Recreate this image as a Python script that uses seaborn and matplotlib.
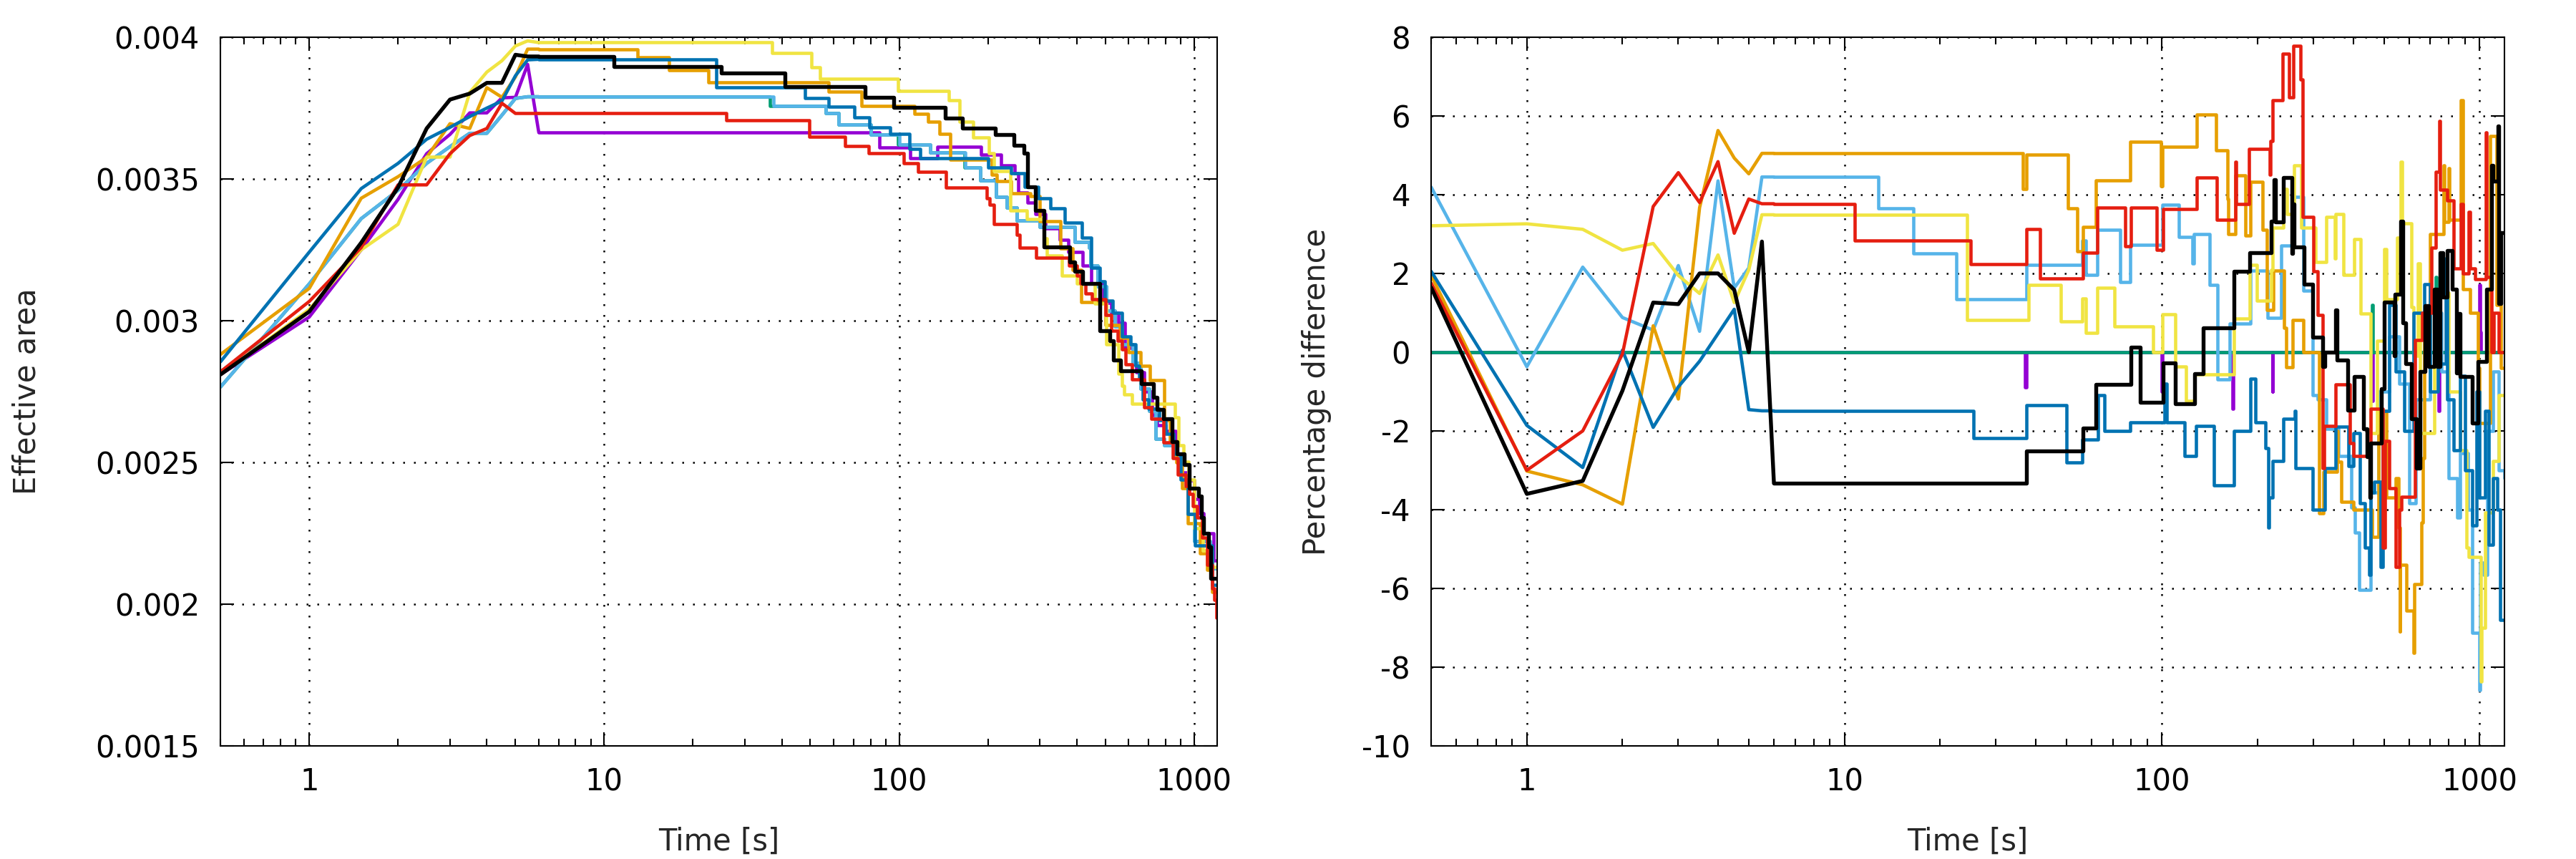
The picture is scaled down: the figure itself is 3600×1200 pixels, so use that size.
import matplotlib
matplotlib.use("Agg")
import matplotlib.pyplot as plt
from matplotlib.ticker import LogLocator, NullFormatter
import pandas as pd
import seaborn as sns

# first seconds are plain samples, drawn as straight segments
t_start = [0.5, 1, 1.5, 2, 2.5, 3, 3.5, 4, 4.5, 5, 5.5, 6]

# ---- effective area, first seconds ----
area_purple_start = [0.00281, 0.003013, 0.00325, 0.003428, 0.003589, 0.003657, 0.003733, 0.003733, 0.003786, 0.003788, 0.003904, 0.003664]
area_green_start = [0.002766, 0.00313, 0.00336, 0.00346, 0.003555, 0.003614, 0.003661, 0.003661, 0.003725, 0.003784, 0.00379, 0.00379]
area_lblue_start = [0.002766, 0.00313, 0.00336, 0.00346, 0.003555, 0.003614, 0.003661, 0.003661, 0.003725, 0.003784, 0.00379, 0.00379]
area_orange_start = [0.002881, 0.003114, 0.003432, 0.003508, 0.003576, 0.003695, 0.003678, 0.003822, 0.003788, 0.00386, 0.003958, 0.003958]
area_yellow_start = [0.00281, 0.00304, 0.00325, 0.00334, 0.003577, 0.003577, 0.003805, 0.003877, 0.003917, 0.003969, 0.003987, 0.003981]
area_dblue_start = [0.002855, 0.003242, 0.003466, 0.003555, 0.00364, 0.003682, 0.00372, 0.00375, 0.003775, 0.003864, 0.00392, 0.003922]
area_red_start = [0.00282, 0.003068, 0.003258, 0.003479, 0.003479, 0.003589, 0.003653, 0.003678, 0.003767, 0.003731, 0.003731, 0.003731]
area_black_start = [0.00281, 0.003032, 0.003275, 0.00347, 0.003678, 0.00378, 0.003801, 0.003839, 0.003839, 0.003938, 0.003932, 0.003932]

# ---- effective area, later: (time, new value) steps ----
area_purple_steps = [(6, 0.003664), (85.5, 0.003612), (109, 0.003574), (134.5, 0.003614), (189, 0.003585),
    (221, 0.003549), (246, 0.003521), (253, 0.003451), (272, 0.003417), (290, 0.003375), (313, 0.003326),
    (351, 0.003285), (375, 0.003243), (420, 0.003194), (449, 0.003132), (494, 0.003063), (523, 0.003028),
    (553, 0.002993), (583, 0.002903), (627, 0.002847), (638, 0.002819), (676, 0.00275), (722, 0.002667),
    (750, 0.002632), (802, 0.00261), (866, 0.002528), (899, 0.002465), (952, 0.002438), (1000, 0.00237),
    (1040, 0.00232), (1077, 0.00225), (1162, 0.002153), (1200, 0.002153)]
area_green_steps = [(6, 0.00379), (36.5, 0.003757), (56.5, 0.003733), (62.5, 0.003691), (80, 0.003657),
    (99, 0.003621), (127.5, 0.003593), (167, 0.00354), (188, 0.003496), (213, 0.003438), (232, 0.0034),
    (251, 0.003354), (300, 0.00333), (393, 0.003278), (441, 0.003257), (445, 0.003194), (470, 0.00312),
    (503, 0.003035), (540, 0.00298), (570, 0.002917), (620, 0.00285), (660, 0.00276), (703, 0.002681),
    (740, 0.002583), (790, 0.00256), (850, 0.00252), (900, 0.00245), (952, 0.002319), (1000, 0.002222),
    (1130, 0.002125), (1200, 0.002125)]
area_lblue_steps = [(6, 0.00379), (37.5, 0.003757), (56.5, 0.003733), (62.5, 0.003691), (80, 0.003657),
    (100.5, 0.003621), (127.5, 0.003593), (168, 0.00354), (188, 0.003496), (213, 0.003438), (232, 0.0034),
    (251, 0.003354), (300, 0.00333), (393, 0.003278), (441, 0.003257), (445, 0.003194), (470, 0.00312),
    (503, 0.003035), (540, 0.00298), (570, 0.002917), (620, 0.00285), (660, 0.00276), (703, 0.002681),
    (740, 0.002583), (790, 0.00256), (850, 0.00252), (900, 0.00245), (952, 0.002319), (1000, 0.002222),
    (1130, 0.002125), (1200, 0.002125)]
area_orange_steps = [(6, 0.003958), (13, 0.00393), (16.6, 0.003884), (22.5, 0.003842), (57.5, 0.003808),
    (74.5, 0.003758), (113, 0.003729), (125.5, 0.003701), (137, 0.003658), (149, 0.003568), (206, 0.003514),
    (214, 0.003493), (239, 0.00345), (279, 0.00344), (300, 0.00335), (352, 0.003256), (388, 0.00318),
    (414, 0.003066), (500, 0.002985), (560, 0.00294), (600, 0.002888), (660, 0.00284), (710, 0.00279),
    (790, 0.00265), (830, 0.00257), (870, 0.0025), (910, 0.00241), (950, 0.002285), (1050, 0.00218),
    (1110, 0.00212), (1150, 0.002044), (1200, 0.002044)]
area_yellow_steps = [(6, 0.003981), (37, 0.003945), (50.5, 0.003894), (54, 0.003854), (99, 0.003811),
    (147.5, 0.003778), (160.5, 0.003702), (178, 0.003647), (202, 0.00359), (210, 0.003528), (238, 0.003389),
    (271, 0.003358), (310, 0.00329), (316, 0.00323), (357, 0.00316), (400, 0.00313), (460, 0.00306),
    (503, 0.002917), (553, 0.002812), (570, 0.00277), (580, 0.00274), (615, 0.002708), (860, 0.00266),
    (884, 0.00256), (920, 0.002503), (960, 0.00244), (1000, 0.002267), (1070, 0.00219), (1150, 0.00213),
    (1200, 0.00213)]
area_dblue_steps = [(6, 0.003922), (24, 0.003822), (48, 0.003784), (57.5, 0.003754), (70.5, 0.003716),
    (79.5, 0.003682), (93, 0.003658), (108.5, 0.003606), (118, 0.003574), (200, 0.00354), (240, 0.003521),
    (266, 0.003472), (296, 0.003431), (325, 0.003396), (365, 0.003347), (416, 0.003292), (449, 0.003188),
    (480, 0.003139), (499, 0.00307), (530, 0.003028), (570, 0.002944), (609, 0.002917), (632, 0.00284),
    (650, 0.002792), (669, 0.002722), (700, 0.00269), (760, 0.00265), (800, 0.0026), (850, 0.00253),
    (900, 0.00244), (952, 0.002319), (1008, 0.002208), (1150, 0.002069), (1200, 0.002069)]
area_red_steps = [(6, 0.003731), (26, 0.003706), (49.5, 0.00365), (65.5, 0.003616), (79, 0.003591),
    (103.5, 0.003555), (116, 0.003525), (144.5, 0.00347), (198, 0.003432), (203, 0.003408), (210, 0.00334),
    (251, 0.003303), (256, 0.003257), (291, 0.003222), (377, 0.003194), (400, 0.00316), (412, 0.003132),
    (428, 0.003097), (450, 0.003076), (500, 0.00302), (523, 0.002965), (550, 0.00293), (570, 0.0029),
    (586, 0.002847), (615, 0.002792), (676, 0.002694), (716, 0.002653), (787, 0.00257), (849, 0.002514),
    (882, 0.002458), (934, 0.002417), (961, 0.002389), (989, 0.002347), (1027, 0.002306), (1067, 0.002236),
    (1108, 0.002139), (1151, 0.002056), (1173, 0.002014), (1190, 0.001951), (1200, 0.001951)]
area_black_steps = [(6, 0.003932), (10.8, 0.003897), (25, 0.003873), (41, 0.003826), (76.5, 0.003788),
    (96, 0.003753), (143, 0.003715), (164, 0.003678), (212, 0.003656), (245, 0.003618), (265, 0.00359),
    (272, 0.003472), (290, 0.003389), (310, 0.003261), (378, 0.003208), (393, 0.003174), (420, 0.003132),
    (480, 0.002965), (518, 0.00293), (533, 0.002861), (564, 0.002822), (663, 0.002778), (729, 0.002729),
    (750, 0.002688), (787, 0.002653), (841, 0.002572), (874, 0.00253), (925, 0.002493), (961, 0.00241),
    (1036, 0.002382), (1057, 0.002306), (1077, 0.00225), (1119, 0.002201), (1140, 0.00209), (1200, 0.00209)]

# ---- percentage difference, first seconds ----
diff_purple_start = [0, 0, 0, 0, 0, 0, 0, 0, 0, 0, 0, 0]
diff_green_start = [0, 0, 0, 0, 0, 0, 0, 0, 0, 0, 0, 0]
diff_lblue_start = [4.19, -0.37, 2.16, 0.88, 0.56, 2.2, 0.53, 4.35, 1.63, 2.14, 4.45, 4.45]
diff_orange_start = [1.95, -3.02, -3.37, -3.86, 0.67, -1.19, 3.67, 5.63, 4.93, 4.53, 5.05, 5.05]
diff_yellow_start = [3.21, 3.26, 3.12, 2.59, 2.76, 1.95, 1.49, 2.47, 1.26, 2.09, 3.49, 3.49]
diff_dblue_start = [2.05, -1.86, -2.93, 0.05, -1.91, -0.88, -0.23, 0.47, 1.09, -1.46, -1.49, -1.49]
diff_red_start = [1.75, -3.0, -2.0, -0.05, 3.70, 4.56, 3.80, 4.84, 3.02, 3.89, 3.77, 3.77]
diff_black_start = [1.64, -3.6, -3.27, -0.98, 1.26, 1.22, 2.0, 2.0, 1.58, 0.0, 2.81, -3.33]

# ---- percentage difference, later: (time, new value) steps ----
diff_purple_steps = [(6, 0), (37, -0.9), (37.5, 0), (100, -1.0), (100.5, 0), (167, -1.44), (167.5, 0),
    (223, -1.0), (223.5, 0), (460, -1.24), (461, 0), (745, -1.5), (746, 0), (1000, 1.7), (1003, 0.5),
    (1010, 0), (1200, 0)]
diff_green_steps = [(6, 0), (460, 1.2), (461, 0), (730, 1.9), (731, 0), (1200, 0)]
diff_lblue_steps = [(6, 4.45), (12.8, 3.65), (16.5, 2.5), (22.5, 1.34), (37.5, 2.22), (56, 2.84), (57.5, 1.96),
    (62.5, 3.11), (74, 1.78), (79.5, 2.72), (100.5, 3.75), (113, 2.92), (125, 2.25), (126, 3.0), (141, 1.7),
    (150, -0.7), (163, 0.72), (190, 2.07), (215, 0.88), (238, 2.71), (260, 3.95), (279, 1.57), (298, -1.1),
    (310, -1.2), (330, -1.94), (360, -2.63), (395, -3.95), (405, -4.58), (418, -6.03), (455, -3.57),
    (480, -1.0), (520, 0.4), (560, -0.8), (600, -3.83), (630, -1.2), (700, 1.0), (760, -0.5), (800, -3.2),
    (850, -4.2), (870, -2.57), (920, -4.0), (950, -7.13), (1000, -8.58), (1005, -5.34), (1030, -5.65),
    (1060, -2.0), (1100, -0.5), (1150, -3.0), (1200, -3.2)]
diff_orange_steps = [(6, 5.05), (36.5, 4.14), (37.5, 5.01), (50.5, 3.66), (54, 2.57), (56.5, 3.19), (62, 4.37),
    (79.5, 5.35), (99.5, 4.22), (100.5, 5.22), (128.5, 6.03), (148, 5.13), (160.5, 3.89), (162, 3.0),
    (170, 4.49), (183, 2.97), (190, 4.33), (207, 3.1), (214, 1.08), (224, 2.07), (242, 0.62), (246, -0.39),
    (258, 0.82), (279, 0.0), (313, -4.1), (322, -3.04), (355, -2.0), (358, -2.79), (367, -3.8), (402, -4.0),
    (458, -4.7), (480, -1.5), (508, -3.7), (545, -3.2), (557, -4.46), (561, -7.1), (563, -5.4), (588, -6.57),
    (620, -7.64), (622, -5.9), (658, -4.33), (662, -2.7), (670, 0.5), (700, 3.0), (770, 4.74), (775, 3.3),
    (800, 4.67), (805, 3.37), (875, 6.4), (885, 1.6), (935, 1.0), (990, -0.4), (1000, -1.8), (1080, 5.49),
    (1130, 1.2), (1170, -0.4), (1200, -0.4)]
diff_yellow_steps = [(6, 3.49), (24.3, 0.82), (38, 1.70), (48, 0.78), (56, 1.36), (57.5, 0.49), (62.5, 1.64),
    (71, 0.65), (94, 0.0), (100.5, 0.97), (110, -0.36), (119, -1.24), (127, -0.56), (169, 0.85), (189, 2.22),
    (199, 1.31), (221, 2.09), (223, 3.17), (241, 4.15), (247, 3.5), (260, 4.74), (275, 3.17), (304, 2.29),
    (330, 3.43), (350, 2.39), (352, 3.5), (373, 1.96), (404, 2.88), (422, 0.98), (455, -2.06), (475, 0.29),
    (500, 2.61), (510, 1.34), (550, 2.9), (566, 4.84), (570, 3.27), (610, 1.14), (620, -0.1), (640, 2.25),
    (650, -2.06), (720, 1.5), (800, -1.0), (870, -2.5), (908, -4.96), (925, -5.2), (1010, -8.36),
    (1015, -7.0), (1040, -4.08), (1100, -2.76), (1150, -1.1), (1200, -1.1)]
diff_dblue_steps = [(6, -1.49), (25.5, -2.18), (37.5, -1.34), (50, -2.8), (56, -2.22), (63, -1.1), (66, -2.0),
    (79.5, -1.79), (102, -0.8), (103.5, -1.78), (118, -2.63), (128, -1.87), (146, -3.39), (169, -2.0),
    (190, -0.68), (197, -1.78), (212, -2.44), (216, -4.46), (217, -3.7), (223, -2.76), (241, -1.69),
    (262, -1.5), (264, -2.94), (299, -4.0), (325, -2.94), (353, -1.9), (387, -2.9), (401, -2.06), (420, -3.83),
    (435, -4.96), (450, -5.65), (455, -3.57), (465, -3.3), (489, -5.46), (495, -1.5), (520, 1.2), (545, -0.5),
    (580, -2.0), (620, 1.0), (670, 1.73), (700, -1.0), (740, -0.3), (785, 2.39), (790, -1.2), (830, -2.5),
    (870, -0.6), (900, -3.0), (950, -4.4), (980, -1.0), (1000, -3.7), (1040, -1.5), (1070, -4.9),
    (1100, -3.2), (1140, -4.0), (1160, -6.8), (1200, -6.8)]
diff_red_steps = [(6, 3.77), (10.8, 2.84), (25, 2.24), (37.5, 3.13), (41.3, 1.88), (56.5, 2.52), (62.5, 3.67),
    (76.5, 2.69), (80, 3.67), (96.5, 2.6), (101, 3.64), (128.5, 4.43), (149, 3.37), (170, 4.84), (171, 3.76),
    (188, 5.16), (218, 4.51), (220, 5.36), (223, 6.4), (240, 7.58), (251, 6.47), (259, 7.78), (273, 6.93),
    (278, 3.43), (300, 2.06), (310, 0.95), (320, -2.94), (324, -1.87), (353, -0.82), (390, -2.31),
    (400, -2.63), (455, -1.43), (495, -4.96), (505, -2.25), (520, -3.45), (545, -5.46), (558, -4.0),
    (568, -3.67), (628, 0.3), (660, 1.0), (705, 2.65), (728, 4.58), (748, 5.88), (752, 4.12), (790, 3.86),
    (830, 2.12), (875, 3.76), (885, 2.0), (925, 3.56), (935, 2.12), (970, 1.86), (1045, 5.59), (1055, 1.9),
    (1090, 0.0), (1110, 1.0), (1150, 0.0), (1200, 0.0)]
diff_black_steps = [(6, -3.33), (37.5, -2.51), (56.5, -1.93), (62, -0.81), (80, 0.13), (85.5, -1.27),
    (101, -0.28), (110, -1.31), (127, -0.54), (135, 0.61), (169, 2.06), (189, 2.53), (221, 3.33), (225, 4.38),
    (228, 3.3), (241, 4.44), (256, 2.5), (258, 3.76), (260, 2.68), (280, 1.73), (299, 0.39), (320, -0.36),
    (325, 0.0), (353, 1.08), (356, -0.2), (384, -1.47), (404, -0.62), (431, -1.94), (442, -2.66), (451, -3.7),
    (455, -2.31), (490, -0.93), (500, 1.27), (539, -0.1), (542, 1.47), (566, 3.33), (575, 0.75), (587, -0.29),
    (610, -1.69), (632, -2.94), (650, -0.5), (675, 1.18), (690, -0.36), (720, 1.6), (735, -0.36), (750, 2.52),
    (765, 1.4), (790, 2.58), (820, 1.6), (846, -0.52), (860, 0.98), (870, -0.62), (950, -1.8), (990, -0.23),
    (1050, 1.6), (1090, 4.74), (1100, 4.35), (1145, 5.75), (1150, 1.24), (1170, 3.04), (1200, 3.04)]

colors = {"purple": "#9400d3", "green": "#009e73", "lblue": "#56b4e9", "orange": "#e69f00",
          "yellow": "#f0e442", "dblue": "#0072b2", "red": "#e51e10", "black": "#000000"}

area_series = [("purple", area_purple_start, area_purple_steps), ("green", area_green_start, area_green_steps),
               ("lblue", area_lblue_start, area_lblue_steps), ("orange", area_orange_start, area_orange_steps),
               ("yellow", area_yellow_start, area_yellow_steps), ("dblue", area_dblue_start, area_dblue_steps),
               ("red", area_red_start, area_red_steps), ("black", area_black_start, area_black_steps)]
diff_series = [("purple", diff_purple_start, diff_purple_steps), ("green", diff_green_start, diff_green_steps),
               ("lblue", diff_lblue_start, diff_lblue_steps), ("orange", diff_orange_start, diff_orange_steps),
               ("yellow", diff_yellow_start, diff_yellow_steps), ("dblue", diff_dblue_start, diff_dblue_steps),
               ("red", diff_red_start, diff_red_steps), ("black", diff_black_start, diff_black_steps)]

sns.set_style("ticks")
plt.rcParams["font.family"] = ["DejaVu Sans"]
plt.rcParams["axes.unicode_minus"] = False

fig = plt.figure(figsize=(12, 4), dpi=300)
ax1 = fig.add_axes([0.0856, 0.1317, 0.387, 0.825])
ax2 = fig.add_axes([0.5556, 0.1317, 0.4167, 0.825])


def draw(ax, series):
    for name, start, steps in series:
        lw = 1.3 if name == "black" else 1.1
        sns.lineplot(x=t_start, y=start, ax=ax, color=colors[name], lw=lw,
                     estimator=None, sort=False)
        st = pd.DataFrame(steps, columns=["t", "v"])
        sns.lineplot(data=st, x="t", y="v", ax=ax, color=colors[name], lw=lw,
                     estimator=None, sort=False, drawstyle="steps-post")


def style(ax, yticks, ylabels, ylabel, labelpad):
    ax.set_xscale("log")
    ax.set_xlim(0.5, 1200)
    ax.set_xticks([1, 10, 100, 1000])
    ax.set_xticklabels(["1", "10", "100", "1000"])
    ax.xaxis.set_minor_locator(LogLocator(base=10, subs=range(2, 10), numticks=20))
    ax.xaxis.set_minor_formatter(NullFormatter())
    ax.set_ylim(yticks[0], yticks[-1])
    ax.set_yticks(yticks)
    ax.set_yticklabels(ylabels)
    ax.set_axisbelow(True)
    ax.grid(True, which="major", color="black", linestyle=(0, (1, 5)), linewidth=0.6)
    ax.tick_params(which="both", direction="in", top=True, right=True, width=0.5, colors="black")
    ax.tick_params(which="major", length=4.5, labelsize=10, pad=7)
    ax.tick_params(which="minor", length=2.5)
    for sp in ax.spines.values():
        sp.set_linewidth(0.5)
        sp.set_color("black")
    ax.set_xlabel("Time [s]", fontsize=10, labelpad=10)
    ax.set_ylabel(ylabel, fontsize=10, labelpad=labelpad)


draw(ax1, area_series)
draw(ax2, diff_series)

area_ticks = [0.0015, 0.002, 0.0025, 0.003, 0.0035, 0.004]
area_labels = ["0.0015", "0.002", "0.0025", "0.003", "0.0035", "0.004"]
diff_ticks = [-10, -8, -6, -4, -2, 0, 2, 4, 6, 8]
diff_labels = ["-10", "-8", "-6", "-4", "-2", "0", "2", "4", "6", "8"]

style(ax1, area_ticks, area_labels, "Effective area", 18)
style(ax2, diff_ticks, diff_labels, "Percentage difference", 10)

fig.savefig("out.png", dpi=300)
